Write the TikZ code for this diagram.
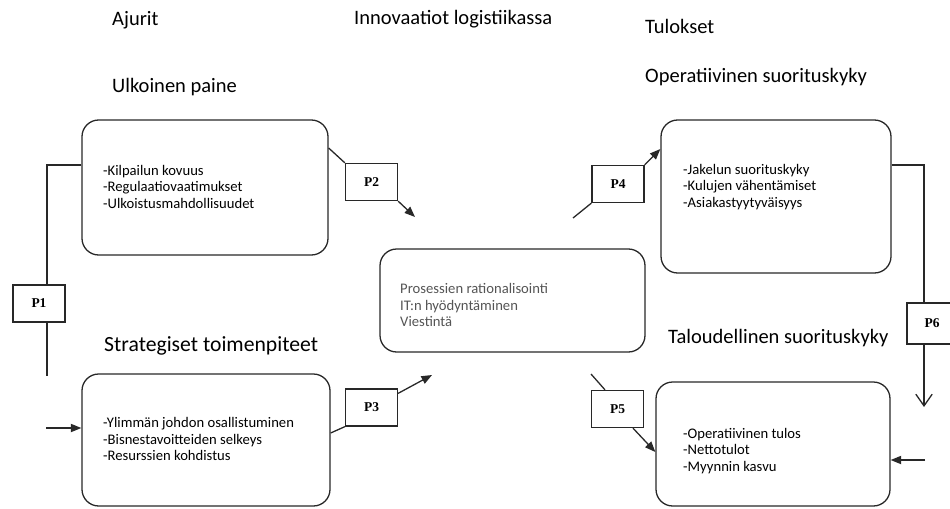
\documentclass[tikz,border=0pt]{standalone}
\usepackage{fontspec}
\setmainfont{Carlito}
\newfontfamily\pfont{Liberation Serif}
\usetikzlibrary{arrows.meta, positioning, calc}
\definecolor{edge}{RGB}{40,40,40}
\definecolor{softtext}{RGB}{85,85,85}
\tikzset{
  block/.style={rectangle, rounded corners=0.5cm, draw=edge, line width=1.1pt,
                fill=white},
  pbox/.style={rectangle, draw=edge, line width=1.1pt, fill=white,
               minimum width=1.56cm, minimum height=1.11cm,
               font=\pfont\fontsize{11.5}{12}\selectfont\bfseries},
  items/.style={anchor=west, align=left, inner sep=0pt,
                font=\fontsize{12.5}{14.1}\selectfont},
  heading/.style={anchor=west, inner sep=0pt, font=\fontsize{17.5}{20}\selectfont},
  arrow/.style={-{Triangle[length=9pt,width=7pt]}, line width=1.1pt, color=edge},
  link/.style={line width=1.1pt, color=edge},
}

\begin{document}
\begin{tikzpicture}
        \useasboundingbox[fill=white] (0,0) rectangle (28.5,-15.24);

        % Headings
        \node[heading] (ajurit) at (3.36,-0.60) {Ajurit};
        \node[heading] (innovt) at (10.62,-0.57) {Innovaatiot logistiikassa};
        \node[heading] (tulokset) at (19.35,-0.78) {Tulokset};
        \node[heading] (ulkt) at (3.36,-2.61) {Ulkoinen paine};
        \node[heading] (opert) at (19.35,-2.31) {Operatiivinen suorituskyky};
        \node[heading, font=\fontsize{18.5}{21}\selectfont] (stratt) at (3.12,-10.38) {Strategiset toimenpiteet};
        \node[heading] (taloust) at (20.04,-10.14) {Taloudellinen suorituskyky};

        % Driver boxes
        \node[block, minimum width=7.38cm, minimum height=4.05cm] (ulk) at (6.15,-5.625) {};
        \node[items] (ulktxt) at (3.09,-5.595)
              {-Kilpailun kovuus\\-Regulaatiovaatimukset\\-Ulkoistusmahdollisuudet};
        \node[block, minimum width=7.44cm, minimum height=3.96cm] (strat) at (6.18,-13.20) {};
        \node[items] (strattxt) at (3.09,-13.17)
              {-Ylimmän johdon osallistuminen\\-Bisnestavoitteiden selkeys\\-Resurssien kohdistus};

        % Innovation box
        \node[block, minimum width=7.95cm, minimum height=3.09cm] (innov) at (15.375,-9.015) {};
        \node[items, color=softtext] (innovtxt) at (12.0,-9.15)
              {Prosessien rationalisointi\\IT:n hyödyntäminen\\Viestintä};

        % Result boxes
        \node[block, minimum width=6.9cm, minimum height=4.59cm] (oper) at (23.28,-5.895) {};
        \node[items] (opertxt) at (20.49,-5.61)
              {-Jakelun suorituskyky\\-Kulujen vähentämiset\\-Asiakastyytyväisyys};
        \node[block, minimum width=7.02cm, minimum height=3.72cm] (talous) at (23.19,-13.32) {};
        \node[items] (taloustxt) at (20.49,-13.53)
              {-Operatiivinen tulos\\-Nettotulot\\-Myynnin kasvu};

        % Path labels
        \node[pbox] (p1) at (1.17,-9.105) {P1};
        \node[pbox] (p2) at (11.145,-5.46) {P2};
        \node[pbox] (p3) at (11.145,-12.225) {P3};
        \node[pbox] (p4) at (18.54,-5.52) {P4};
        \node[pbox] (p5) at (18.525,-12.27) {P5};
        \node[pbox, minimum width=1.5cm, minimum height=1.23cm] (p6) at (27.96,-9.705) {P6};

        % Free ends
        \coordinate (p1end) at (1.41,-11.28);
        \coordinate (p1in) at (1.38,-12.84);
        \coordinate (p2tip) at (12.45,-6.51);
        \coordinate (p3tip) at (12.96,-11.25);
        \coordinate (p4tail) at (17.19,-6.54);
        \coordinate (p5tail) at (17.73,-11.22);
        \coordinate (p6tip) at (27.72,-12.21);
        \coordinate (p6in) at (27.75,-13.80);

        % P1: external pressure -> strategic actions
        \draw[link] ([yshift=0.675cm]ulk.west) -| ([xshift=0.24cm]p1.north);
        \draw[link] ([xshift=0.24cm]p1.south) -- (p1end);
        \draw[arrow] (p1in) -- (strat.west |- p1in);

        % P2, P3: drivers -> innovations
        \draw[link] ([yshift=1.185cm]ulk.east) -- (p2.north west);
        \draw[arrow] (p2.south east) -- (p2tip);
        \draw[link] ([yshift=0.21cm]strat.east) -- (p3.south west);
        \draw[arrow] ([yshift=-0.15cm]p3.north east) -- (p3tip);

        % P4, P5: innovations -> results
        \draw[link] (p4tail) -- (p4.south west);
        \draw[arrow] (p4.north east) -- ([yshift=1.425cm]oper.west);
        \draw[link] (p5tail) -- ([xshift=-0.375cm]p5.north);
        \draw[arrow] ([xshift=0.465cm]p5.south) -- ([yshift=-0.24cm]talous.west);

        % P6: operational -> financial
        \draw[link] ([yshift=0.945cm]oper.east) -| ([xshift=-0.24cm]p6.north);
        \draw[link, -{Straight Barb[length=10pt,width=14pt]}] ([xshift=-0.24cm]p6.south) -- (p6tip);
        \draw[arrow] (p6in) -- (talous.east |- p6in);
      \end{tikzpicture}
\end{document}
